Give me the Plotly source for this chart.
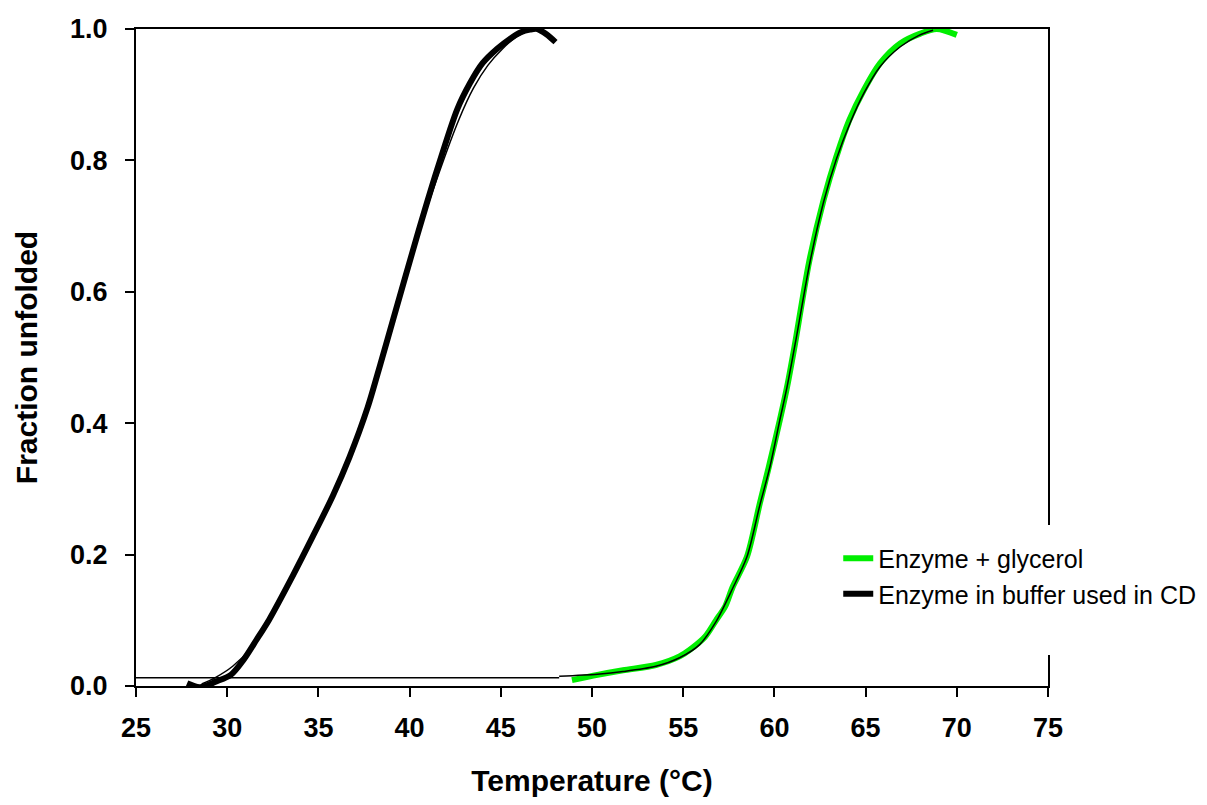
import plotly.graph_objects as go

# Enzyme in buffer (thick black, measured)
T_buf = [27.8, 28.5, 29.4, 30.2, 30.9, 31.6, 32.3, 33.6, 34.7, 35.8, 36.7, 37.7, 38.4, 39.1,
         40.4, 41.5, 42.6, 43.3, 44.0, 44.8, 45.5, 46.1, 46.6, 47.0, 47.5, 48.0]
f_buf = [0.004, -0.002, 0.007, 0.017, 0.040, 0.070, 0.101, 0.168, 0.228, 0.290, 0.348, 0.424, 0.490, 0.558,
         0.684, 0.785, 0.877, 0.917, 0.948, 0.970, 0.985, 0.995, 0.999, 1.000, 0.992, 0.980]

# Enzyme in buffer (thin black, fit)
T_buf_fit = [28.6, 29.3, 30.3, 31.3, 32.2, 33.6, 34.7, 35.8, 36.8, 37.7, 38.4, 39.2, 40.4, 41.6,
             42.7, 43.5, 44.3, 45.1, 45.8, 46.5]
f_buf_fit = [0.003, 0.012, 0.030, 0.058, 0.098, 0.168, 0.228, 0.290, 0.353, 0.425, 0.490, 0.563, 0.680, 0.780,
             0.862, 0.910, 0.945, 0.970, 0.987, 0.998]

# Enzyme + glycerol (thick green, measured)
T_gly = [48.9, 50.3, 51.7, 53.5, 54.8, 55.5, 56.2, 56.8, 57.3, 57.7, 58.5, 59.2, 59.7, 60.3, 60.7, 61.1,
         61.9, 62.7, 63.4, 64.1, 64.9, 65.8, 66.9, 68.0, 68.9, 70.0]
f_gly = [0.009, 0.017, 0.024, 0.032, 0.045, 0.058, 0.075, 0.100, 0.121, 0.150, 0.197, 0.278, 0.334, 0.405, 0.456, 0.516,
         0.645, 0.740, 0.806, 0.861, 0.907, 0.948, 0.978, 0.993, 1.000, 0.991]

# Enzyme + glycerol (thin black, fit) and its baseline
T_gly_fit = [48.2, 50.3, 51.7, 53.5, 54.8, 55.9, 56.8, 57.7, 58.5, 59.2, 59.75, 60.3, 60.7, 61.2,
             61.95, 62.7, 63.4, 64.15, 64.9, 65.8, 66.9, 67.9, 68.7]
f_gly_fit = [0.015, 0.018, 0.022, 0.030, 0.043, 0.063, 0.098, 0.148, 0.197, 0.275, 0.333, 0.405, 0.456, 0.530,
             0.645, 0.737, 0.802, 0.857, 0.902, 0.943, 0.973, 0.990, 0.998]
T_base = [25, 48.2]
f_base = [0.0126, 0.0126]

x_ticks = [25, 30, 35, 40, 45, 50, 55, 60, 65, 70, 75]
y_ticks = [0.0, 0.2, 0.4, 0.6, 0.8, 1.0]

FONT = "Liberation Sans, Arial, sans-serif"

fig = go.Figure()
fig.add_trace(go.Scatter(x=T_gly, y=f_gly, mode="lines", name="Enzyme + glycerol",
                         line=dict(color="#00ee00", width=6, shape="spline", smoothing=0.8)))
fig.add_trace(go.Scatter(x=T_buf, y=f_buf, mode="lines", name="Enzyme in buffer used in CD",
                         line=dict(color="black", width=6, shape="spline", smoothing=0.8)))
fig.add_trace(go.Scatter(x=T_buf_fit, y=f_buf_fit, mode="lines", showlegend=False,
                         line=dict(color="black", width=1.5, shape="spline", smoothing=0.8)))
fig.add_trace(go.Scatter(x=T_base, y=f_base, mode="lines", showlegend=False,
                         line=dict(color="black", width=1.5)))
fig.add_trace(go.Scatter(x=T_gly_fit, y=f_gly_fit, mode="lines", showlegend=False,
                         line=dict(color="black", width=1.5, shape="spline", smoothing=0.8)))

# plot area: 128..(1199-159) wide, 21..(797-119) tall (page adds an 8px body margin)
fig.update_layout(
    width=1199, height=797,
    margin=dict(l=128, r=159, t=21, b=119, autoexpand=False),
    paper_bgcolor="white", plot_bgcolor="white",
    font=dict(family=FONT, color="black"),
    showlegend=True,
    legend=dict(x=0.770, y=0.229, xanchor="left", yanchor="top",
                bgcolor="rgba(255,255,255,0)", borderwidth=0,
                font=dict(family=FONT, size=25, color="black"),
                tracegroupgap=0, itemwidth=30),
    shapes=[dict(type="rect", xref="paper", yref="paper", x0=0.7226, x1=1.2, y0=0.047, y1=0.245,
                 fillcolor="white", line=dict(width=0), layer="above")],
)
fig.update_xaxes(range=[25, 75], tickvals=x_ticks, ticktext=[str(v) for v in x_ticks],
                 showgrid=False, zeroline=False, showline=True, linecolor="black", linewidth=2,
                 mirror=True, ticks="outside", ticklen=9, tickwidth=2, tickcolor="black",
                 tickfont=dict(family=FONT, size=27, color="black", weight="bold"), ticklabelstandoff=8,
                 title=dict(text="<b>Temperature (°C)</b>", font=dict(family=FONT, size=30, color="black"),
                            standoff=28))
fig.update_yaxes(range=[0, 1.0], tickvals=y_ticks, ticktext=[f"{v:.1f}" for v in y_ticks],
                 showgrid=False, zeroline=False, showline=True, linecolor="black", linewidth=2,
                 mirror=True, ticks="outside", ticklen=9, tickwidth=2, tickcolor="black",
                 tickfont=dict(family=FONT, size=27, color="black", weight="bold"), ticklabelstandoff=12,
                 title=dict(text="<b>Fraction unfolded</b>", font=dict(family=FONT, size=30, color="black"),
                            standoff=24))

fig.write_html("out.html")
